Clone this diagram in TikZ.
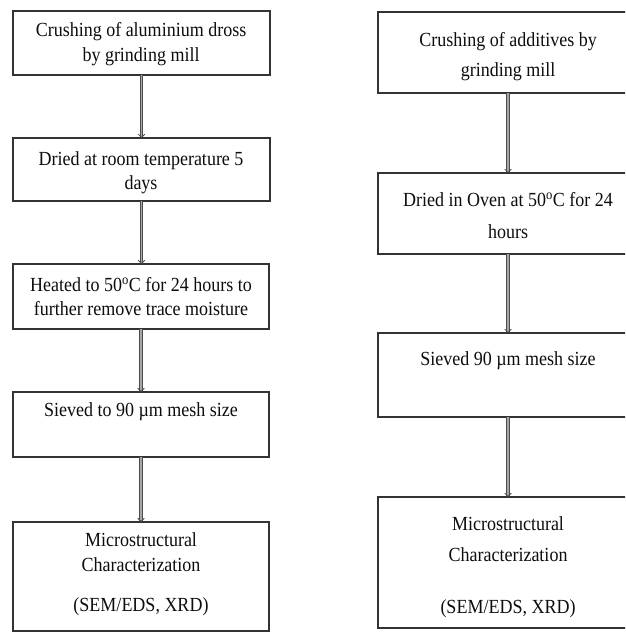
\documentclass[tikz,border=0pt]{standalone}
\usepackage{fontspec}
\setmainfont{Liberation Serif}[FakeStretch=0.9]
\usetikzlibrary{fit,arrows.meta}
\begin{document}
\begin{tikzpicture}[x=0.75pt,y=-0.75pt,
  box/.style={draw=black!80, line width=1.1pt, inner sep=0pt, outer sep=0pt, rectangle},
  txt/.style={font=\fontsize{15}{18}\selectfont, text=black!95, inner sep=0pt, anchor=base},
  flow/.style={draw=black!70, double=black!35, double distance=1.3pt, line width=0.6pt,
    -{Straight Barb[length=2.5pt,width=5pt]}}
]
\useasboundingbox (0,0) rectangle (625,635);
\clip (0,0) rectangle (625,635);

% left column boxes
\node[box, fit={(13,11) (270,75)}] (L1) {};
\node[box, fit={(13,138) (270,201)}] (L2) {};
\node[box, fit={(13,264) (269,329)}] (L3) {};
\node[box, fit={(13,392) (269,457)}] (L4) {};
\node[box, fit={(13,522) (269,631)}] (L5) {};

% right column boxes
\node[box, fit={(378,12) (638,93)}] (R1) {};
\node[box, fit={(378,173) (638,254)}] (R2) {};
\node[box, fit={(378,333) (638,417)}] (R3) {};
\node[box, fit={(378,497) (638,628)}] (R4) {};

% left texts
\node[txt] (L1a) at (141,36.7) {Crushing of aluminium dross};
\node[txt] (L1b) at (141,61.7) {by grinding mill};
\node[txt] (L2a) at (141,165.7) {Dried at room temperature 5};
\node[txt] (L2b) at (141,189.5) {days};
\node[txt] (L3a) at (141,291.7) {Heated to 50\textsuperscript{o}C for 24 hours to};
\node[txt] (L3b) at (141,315.5) {further remove trace moisture};
\node[txt] (L4a) at (141,416.7) {Sieved to 90 µm mesh size};
\node[txt] (L5a) at (141,546.7) {Microstructural};
\node[txt] (L5b) at (141,571.7) {Characterization};
\node[txt] (L5c) at (141,611.7) {(SEM/EDS, XRD)};

% right texts
\node[txt] (R1a) at (508,46.7) {Crushing of additives by};
\node[txt] (R1b) at (508,76.7) {grinding mill};
\node[txt] (R2a) at (508,206.7) {Dried in Oven at 50\textsuperscript{o}C for 24};
\node[txt] (R2b) at (508,238.3) {hours};
\node[txt] (R3a) at (508,365) {Sieved 90 µm mesh size};
\node[txt] (R4a) at (508,530) {Microstructural};
\node[txt] (R4b) at (508,561.7) {Characterization};
\node[txt] (R4c) at (508,613.3) {(SEM/EDS, XRD)};

% arrows
\draw[flow] (L1.south) -- (L1.south |- L2.north);
\draw[flow] (L2.south) -- (L2.south |- L3.north);
\draw[flow] (L3.south) -- (L3.south |- L4.north);
\draw[flow] (L4.south) -- (L4.south |- L5.north);
\draw[flow] (R1.south) -- (R1.south |- R2.north);
\draw[flow] (R2.south) -- (R2.south |- R3.north);
\draw[flow] (R3.south) -- (R3.south |- R4.north);
\end{tikzpicture}
\end{document}
